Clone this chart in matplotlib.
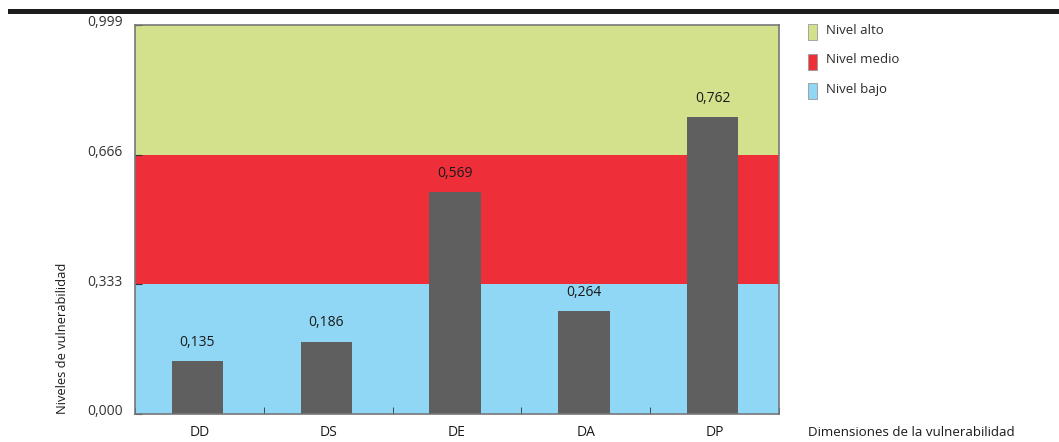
import matplotlib.pyplot as plt
import matplotlib.patches as mpatches
import numpy as np

plt.rcParams['font.family'] = ['Open Sans', 'DejaVu Sans']

DIMENSIONS = ['DD', 'DS', 'DE', 'DA', 'DP']
SCORES = [0.135, 0.186, 0.569, 0.264, 0.762]
LEVEL_EDGES = [0.0, 0.333, 0.666, 0.999]
LEVEL_NAMES = ['Nivel bajo', 'Nivel medio', 'Nivel alto']
LEVEL_COLORS = ['#8fd7f5', '#ee2e38', '#d3e08c']
BAR_COLOR = '#5f5f5f'


def fmt(v):
    return '{:.3f}'.format(v).replace('.', ',')


fig = plt.figure(figsize=(10.59, 4.42), dpi=100)
ax = fig.add_axes([135 / 1059, 1 - 414 / 442, 644 / 1059, 389 / 442])

# background bands for the three vulnerability levels
for i in range(3):
    ax.axhspan(LEVEL_EDGES[i], LEVEL_EDGES[i + 1], color=LEVEL_COLORS[i], lw=0, zorder=0)

x = np.arange(len(DIMENSIONS))
ax.bar(x - 0.015, SCORES, width=0.4, color=BAR_COLOR, zorder=2)
for xi, v in zip(x, SCORES):
    ax.annotate(fmt(v), (xi - 0.015, v), xytext=(0, 8), textcoords='offset points',
                ha='center', va='bottom', fontsize=10, color='#1a1a1a')

ax.set_xlim(-0.5, len(DIMENSIONS) - 0.5)
ax.set_ylim(0, 0.999)

# y labels sit a little above their ticks, so they are placed by hand
ax.set_yticks(LEVEL_EDGES)
ax.set_yticklabels([])
ylab_tr = ax.get_yaxis_transform()
for v in LEVEL_EDGES:
    ax.annotate(fmt(v), (0, v), xycoords=ylab_tr, xytext=(-9, -1),
                textcoords='offset points', ha='right', va='baseline',
                fontsize=10, color='#333333')

ax.set_xticks(x)
ax.set_xticklabels(DIMENSIONS, fontsize=10, color='#1a1a1a')
ax.set_xticks(np.arange(len(DIMENSIONS) + 1) - 0.5, minor=True)
ax.tick_params(axis='x', which='major', length=0, pad=8)
ax.tick_params(axis='x', which='minor', direction='in', length=5, color='#333333')
ax.tick_params(axis='y', direction='in', length=5, color='#333333')

for s in ax.spines.values():
    s.set_color('#777777')
    s.set_linewidth(1.2)

ax.text(-0.112, 0.0, 'Niveles de vulnerabilidad', transform=ax.transAxes,
        rotation=90, ha='center', va='bottom', fontsize=9.3, color='#1a1a1a')
fig.text(808 / 1059, 1 - 432 / 442, 'Dimensiones de la vulnerabilidad',
         ha='left', va='center', fontsize=9.6, color='#1a1a1a')

# legend drawn by hand at the right
for i, (name, col) in enumerate(zip(LEVEL_NAMES[::-1], LEVEL_COLORS[::-1])):
    yc = 1 - (32 + i * 29.5) / 442
    fig.add_artist(mpatches.Rectangle((808 / 1059, yc - 8 / 442), 9 / 1059, 16 / 442,
                                      facecolor=col, edgecolor='#999999', lw=0.6,
                                      transform=fig.transFigure))
    fig.text(826 / 1059, yc + 2 / 442, name, ha='left', va='center', fontsize=9.5,
             color='#2a2a2a')

# heavy rule across the top
fig.add_artist(mpatches.Rectangle((8 / 1059, 1 - 14 / 442), 1051 / 1059, 5 / 442,
                                  facecolor='#1c1c1c', lw=0, transform=fig.transFigure))

fig.savefig('out.png', dpi=100)
